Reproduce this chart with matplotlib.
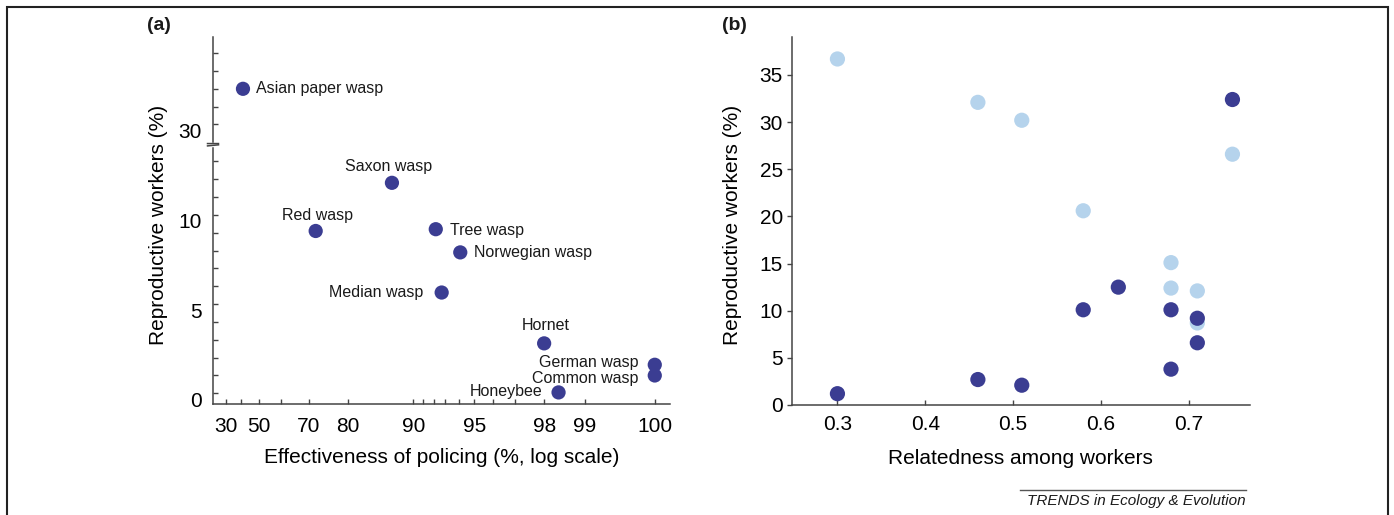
import numpy as np
import matplotlib
matplotlib.use("Agg")
import matplotlib.pyplot as plt
from matplotlib.patches import Rectangle
from matplotlib.lines import Line2D
from matplotlib.transforms import ScaledTranslation

# ---- panel (a): policing vs reproductive workers ----
species = ["Asian paper wasp", "Saxon wasp", "Red wasp", "Tree wasp", "Norwegian wasp",
           "Median wasp", "Hornet", "German wasp", "Common wasp", "Honeybee"]
policing = [41.3, 87.4, 72.0, 92.2, 94.1, 92.7, 98.0, 100.0, 100.0, 98.4]
repro_a = [32.0, 11.8, 9.1, 9.2, 7.9, 5.65, 2.8, 1.6, 1.0, 0.05]

xticks_a = [30, 50, 70, 80, 90, 95, 98, 99, 100]
xminor_a = [40, 60, 91, 92, 93, 94, 96, 97]
yticks_a = [0, 5, 10, 30]
yminor_a = [1, 2, 3, 4, 6, 7, 8, 9, 11, 12, 13, 31, 32, 33, 34]

# ---- panel (b): relatedness vs reproductive workers ----
rel_light = [0.30, 0.46, 0.51, 0.58, 0.68, 0.68, 0.71, 0.71, 0.75]
repro_light = [36.7, 32.1, 30.2, 20.6, 15.1, 12.4, 12.1, 8.7, 26.6]
rel_dark = [0.30, 0.46, 0.51, 0.58, 0.62, 0.68, 0.68, 0.71, 0.71, 0.75]
repro_dark = [1.2, 2.7, 2.1, 10.1, 12.5, 10.1, 3.8, 9.2, 6.6, 32.4]
xticks_b = [0.3, 0.4, 0.5, 0.6, 0.7]
yticks_b = [0, 5, 10, 15, 20, 25, 30, 35]

# label placement (offset in points, alignment)
label_pos = {
    "Asian paper wasp": (9.2, 0, "left"),
    "Saxon wasp": (-2.4, 11.5, "center"),
    "Red wasp": (1.4, 11.3, "center"),
    "Tree wasp": (10.5, -0.7, "left"),
    "Norwegian wasp": (10.2, 0, "left"),
    "Median wasp": (-13.2, 0, "right"),
    "Hornet": (1.0, 13.2, "center"),
    "German wasp": (-11.9, 1.9, "right"),
    "Common wasp": (-11.5, -1.9, "right"),
    "Honeybee": (-11.8, 0.9, "right"),
}

DARK = "#3b3d92"
LIGHT = "#b5d3ec"
AXC = "#444444"

plt.rcParams["font.family"] = ["Liberation Sans", "DejaVu Sans"]
plt.rcParams["text.color"] = "#1a1a1a"


# policing axis: log of (101 - policing %)
def fwd_x(p):
    p = np.asarray(p, float)
    return -np.log10(np.clip(101 - p, 1e-6, None))


def inv_x(d):
    return 101 - 10 ** (-np.asarray(d, float))


# broken y axis: 14..29 squeezed to nothing
def fwd_y(v):
    v = np.asarray(v, float)
    return np.where(v < 14, v, np.where(v > 29, v - 14.93, 14 + (v - 14) * 0.07 / 15))


def inv_y(d):
    d = np.asarray(d, float)
    return np.where(d < 14, d, np.where(d > 14.07, d + 14.93, 14 + (d - 14) * 15 / 0.07))


fig = plt.figure(figsize=(13.94, 5.15), dpi=100)

# ---------------- (a) ----------------
ax1 = fig.add_axes([0.1528, 0.2155, 0.3278, 0.7125])
ax1.set_xscale("function", functions=(fwd_x, inv_x))
ax1.set_yscale("function", functions=(fwd_y, inv_y))
ax1.scatter(policing, repro_a, s=105, color=DARK, edgecolors="none", zorder=3, clip_on=False)
for name, px, py in zip(species, policing, repro_a):
    dx, dy, ha = label_pos[name]
    ax1.annotate(name, (px, py), xytext=(dx, dy), textcoords="offset points",
                 ha=ha, va="center", fontsize=11.5)

ax1.set_xlim(20.6, 100.14)
ax1.set_ylim(-0.6, 34.9)
ax1.set_xticks(xticks_a)
ax1.set_xticklabels([str(t) for t in xticks_a])
ax1.set_xticks(xminor_a, minor=True)
ax1.set_xticklabels([], minor=True)
ax1.set_yticks(yticks_a)
ax1.set_yticklabels([str(t) for t in yticks_a])
ax1.set_yticks(yminor_a, minor=True)
ax1.set_yticklabels([], minor=True)
ax1.tick_params(which="both", direction="in", length=3.5, width=1, color=AXC)
ax1.tick_params(axis="x", labelsize=15, pad=9)
ax1.tick_params(axis="y", labelsize=15, pad=8)
for lab in ax1.get_yticklabels():
    lab.set_transform(lab.get_transform() + ScaledTranslation(0, -0.06, fig.dpi_scale_trans))

# axis break marks
bt = ax1.get_yaxis_transform()
ax1.plot([0, 0], [13.93, 14.07], color="white", lw=2.5, transform=bt, clip_on=False, zorder=5)
for yb in (13.9, 14.1):
    ax1.plot([-0.012, 0.012], [yb - 0.03, yb + 0.03], color=AXC, lw=1.1, transform=bt,
             clip_on=False, zorder=6)

ax1.set_xlabel("Effectiveness of policing (%, log scale)", fontsize=15, va="center")
ax1.xaxis.set_label_coords(0.5, -0.147)
ax1.set_ylabel("Reproductive workers (%)", fontsize=15, va="center")
ax1.yaxis.set_label_coords(-0.119, 0.488)

# ---------------- (b) ----------------
ax2 = fig.add_axes([0.568, 0.2136, 0.3287, 0.7151])
ax2.scatter(rel_light, repro_light, s=120, color=LIGHT, edgecolors="none", zorder=2, clip_on=False)
ax2.scatter(rel_dark, repro_dark, s=120, color=DARK, edgecolors="none", zorder=3, clip_on=False)
ax2.set_xlim(0.248, 0.770)
ax2.set_ylim(0, 39.06)
ax2.set_xticks(xticks_b)
ax2.set_xticklabels([f"{t:.1f}" for t in xticks_b])
ax2.set_yticks(yticks_b)
ax2.set_yticklabels([str(t) for t in yticks_b])
ax2.tick_params(axis="x", direction="in", length=3.5, width=1, color=AXC, labelsize=15, pad=7)
ax2.tick_params(axis="y", direction="out", length=3.5, width=1, color=AXC, labelsize=15, pad=3)
ax2.set_xlabel("Relatedness among workers", fontsize=15, va="center")
ax2.xaxis.set_label_coords(0.5, -0.144)
ax2.set_ylabel("Reproductive workers (%)", fontsize=15, va="center")
ax2.yaxis.set_label_coords(-0.129, 0.489)

for ax in (ax1, ax2):
    for side in ("top", "right"):
        ax.spines[side].set_visible(False)
    for side in ("left", "bottom"):
        ax.spines[side].set_color(AXC)
        ax.spines[side].set_linewidth(1.1)

# panel letters, frame, journal tag
fig.text(158.6 / 1394, 1 - 25 / 515, "(a)", fontsize=14, fontweight="bold", ha="center", va="center")
fig.text(734 / 1394, 1 - 25 / 515, "(b)", fontsize=14, fontweight="bold", ha="center", va="center")
fig.add_artist(Rectangle((7 / 1394, -0.05), 1381 / 1394, 1.05 - 7 / 515, fill=False,
                         edgecolor="#222222", linewidth=1.5, transform=fig.transFigure))
fig.add_artist(Line2D([1020 / 1394, 1246 / 1394], [1 - 490 / 515] * 2, color="#555555",
                      linewidth=1, transform=fig.transFigure))
fig.text(1246 / 1394, 1 - 501 / 515, "TRENDS in Ecology & Evolution", fontsize=11,
         style="italic", ha="right", va="center")

fig.savefig("out.png", dpi=100)
